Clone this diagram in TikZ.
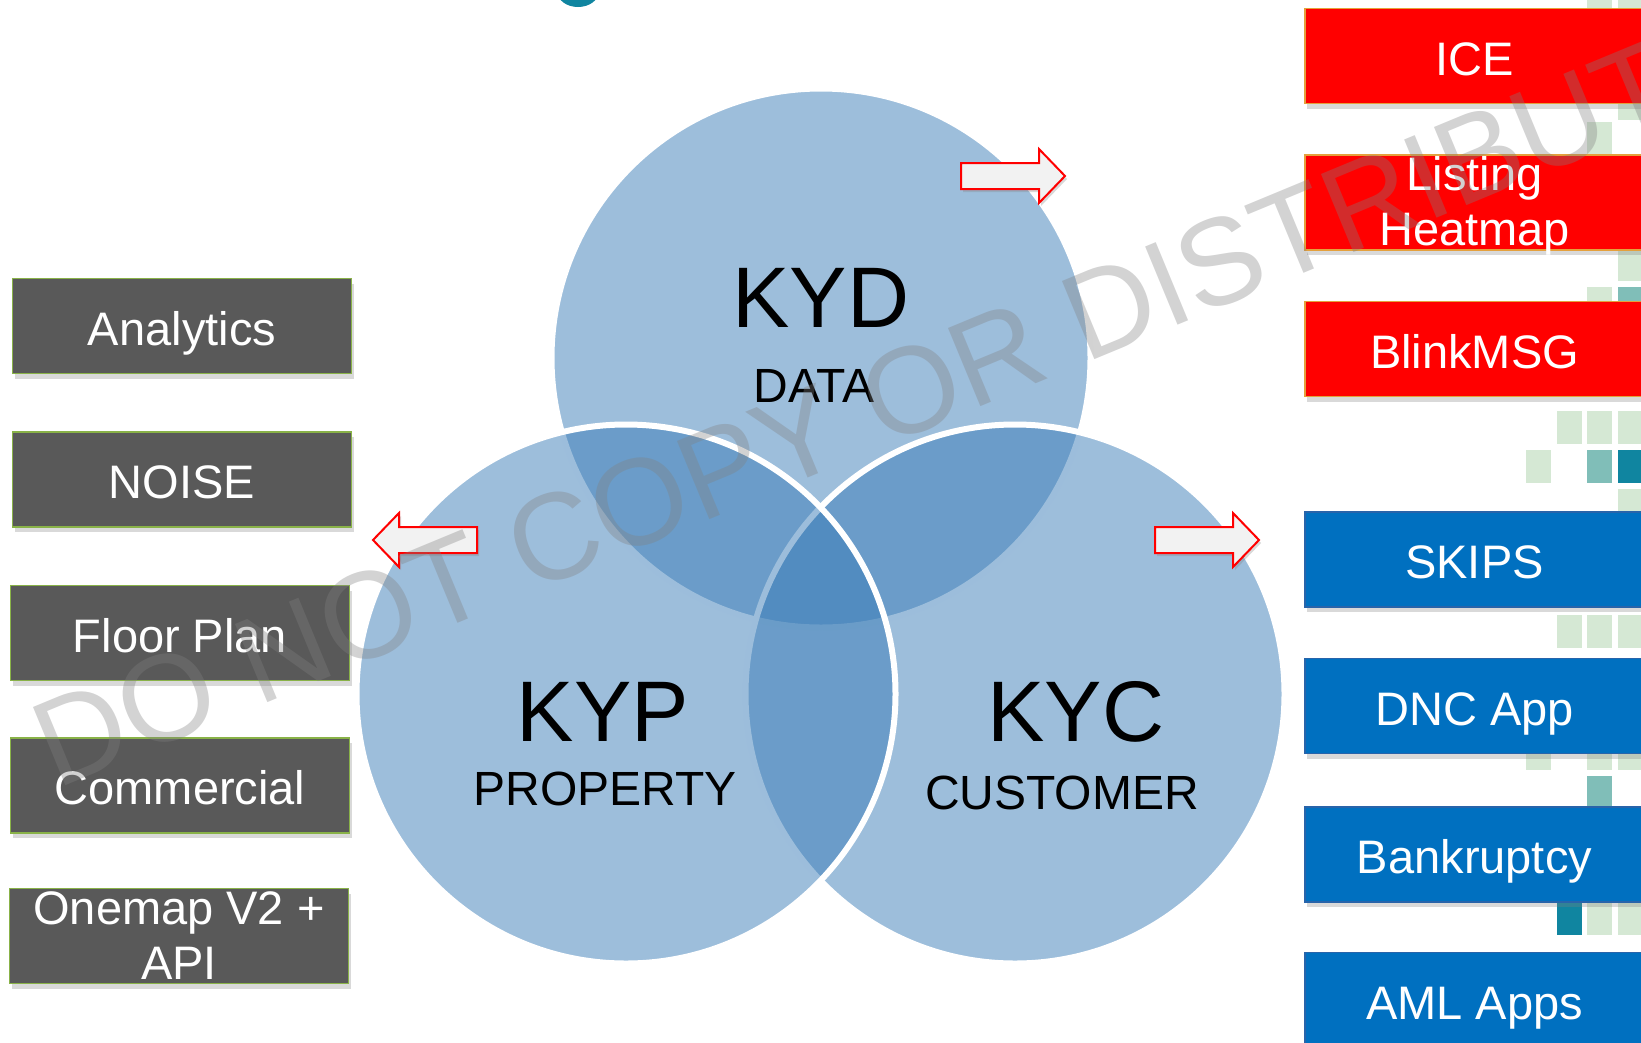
\documentclass[tikz,border=0pt]{standalone}
\usepackage{fontspec}
\setmainfont{Liberation Sans}
\usetikzlibrary{positioning,shadows}

\definecolor{vennblue}{RGB}{55,122,182}
\definecolor{boxgrey}{RGB}{89,89,89}
\definecolor{boxgreen}{RGB}{137,178,72}
\definecolor{boxred}{RGB}{255,0,0}
\definecolor{boxorange}{RGB}{228,160,60}
\definecolor{boxblue}{RGB}{0,112,192}
\definecolor{boxblueline}{RGB}{40,100,170}
\definecolor{arrowfill}{RGB}{242,242,242}
\definecolor{tilepale}{RGB}{213,232,212}
\definecolor{tilemid}{RGB}{128,190,184}
\definecolor{tiledark}{RGB}{16,133,160}
\definecolor{markgrey}{RGB}{128,128,128}

\newcommand{\kyfont}{\fontsize{86}{90}\selectfont}
\newcommand{\kysubfont}{\fontsize{48}{52}\selectfont}
\newcommand{\tagfont}{\fontsize{47}{55}\selectfont}
\newcommand{\markfont}{\fontsize{123}{125}\selectfont}

\tikzset{blockarrow/.pic={
  \draw[fill=arrowfill, draw=red, line width=2pt, drop shadow={shadow xshift=2pt, shadow yshift=-3pt, opacity=0.3}]
    (0,-13) -- (78,-13) -- (78,-27) -- (104,0) -- (78,27) -- (78,13) -- (0,13) -- cycle;}}

\begin{document}
\begin{tikzpicture}[x=1pt,y=-1pt]
 	\tikzstyle{venn}=[circle, inner sep=0pt, minimum size=539pt, draw=white, line width=6pt, fill=vennblue, fill opacity=0.49]
 	\tikzstyle{kylabel}=[inner sep=0pt, anchor=base, font=\kyfont]
 	\tikzstyle{kysub}=[inner sep=0pt, anchor=base, font=\kysubfont]
 	\tikzstyle{tag}=[rectangle, minimum width=339pt, minimum height=95pt, inner sep=0pt, line width=1.5pt, text=white, font=\tagfont, align=center, text height=38pt, text depth=0pt, drop shadow={shadow xshift=2pt, shadow yshift=-5pt, opacity=0.3}]
 	\tikzstyle{greytag}=[tag, fill=boxgrey, draw=boxgreen]
 	\tikzstyle{redtag}=[tag, fill=boxred, draw=boxorange]
 	\tikzstyle{bluetag}=[tag, fill=boxblue, draw=boxblueline]
 	\tikzstyle{twoline}=[text height=86pt, text depth=0pt]
 	\tikzstyle{stamp}=[inner sep=0pt, anchor=base west, rotate=22.5, font=\markfont, text=markgrey, text opacity=0.35]
 	\useasboundingbox (0,0) rectangle (1641,1042);
 	\clip (0,0) rectangle (1641,1042);
 	% tiles on the right edge
 	\foreach \tx/\ty/\tc in {1587/-25/tilepale, 1618/-25/tilepale, 1618/87/tilepale, 1587/122/tilepale,
 	  1618/248/tilepale, 1587/287/tilepale, 1618/287/tilemid,
 	  1557/411/tilepale, 1587/411/tilepale, 1618/411/tilepale,
 	  1526/450/tilepale, 1587/450/tilemid, 1618/450/tiledark, 1618/489/tilepale,
 	  1557/615/tilepale, 1587/615/tilepale, 1618/615/tilepale,
 	  1526/737/tilepale, 1587/737/tilepale, 1618/737/tilepale, 1587/776/tilemid,
 	  1557/902/tiledark, 1587/902/tilepale, 1618/902/tilepale}
 	  \fill[\tc] (\tx,\ty) rectangle ++(25,33);
 	\fill[tiledark] (578,-9) ellipse (21 and 16);
 	% venn
 	\node[venn] (kyd) at (821,358) {};
 	\node[venn] (kyc) at (1015,694) {};
 	\node[venn] (kyp) at (626,694) {};
 	\node[kylabel] (kydname) at (821,327) {KYD};
 	\node[kysub] (kydsub) at (814,402) {DATA};
 	\node[kylabel] (kypname) at (603,741) {KYP};
 	\node[kysub] (kypsub) at (605,805) {PROPERTY};
 	\node[kylabel] (kycname) at (1076,741) {KYC};
 	\node[kysub] (kycsub) at (1062,809) {CUSTOMER};
 	% arrows
 	\pic at (961,176) {blockarrow};
 	\pic at (1155,540) {blockarrow};
 	\pic[xscale=-1] at (477,540) {blockarrow};
 	% left column
 	\node[greytag] (analytics) at (182,326) {Analytics};
 	\node[greytag] (noise) [below=57pt of analytics] {NOISE};
 	\node[greytag] (floorplan) [below=57pt of noise, xshift=-2pt] {Floor Plan};
 	\node[greytag] (commercial) [below=56pt of floorplan] {Commercial};
 	\node[greytag, twoline] (onemap) [below=54pt of commercial, xshift=-1pt] {Onemap V2 +\\API};
 	% right column
 	\node[redtag] (ice) at (1474.5,56) {ICE};
 	\node[redtag, twoline] (listing) [below=50pt of ice] {Listing\\Heatmap};
 	\node[redtag] (blinkmsg) [below=50pt of listing] {BlinkMSG};
 	\node[bluetag] (skips) [below=114pt of blinkmsg] {SKIPS};
 	\node[bluetag] (dnc) [below=50pt of skips] {DNC App};
 	\node[bluetag] (bankruptcy) [below=52pt of dnc] {Bankruptcy};
 	\node[bluetag] (aml) [below=49pt of bankruptcy] {AML Apps};
 	% watermark
 	\node[stamp] (mark) at (56,790) {DO NOT COPY OR DISTRIBUTE};
\end{tikzpicture}
\end{document}
